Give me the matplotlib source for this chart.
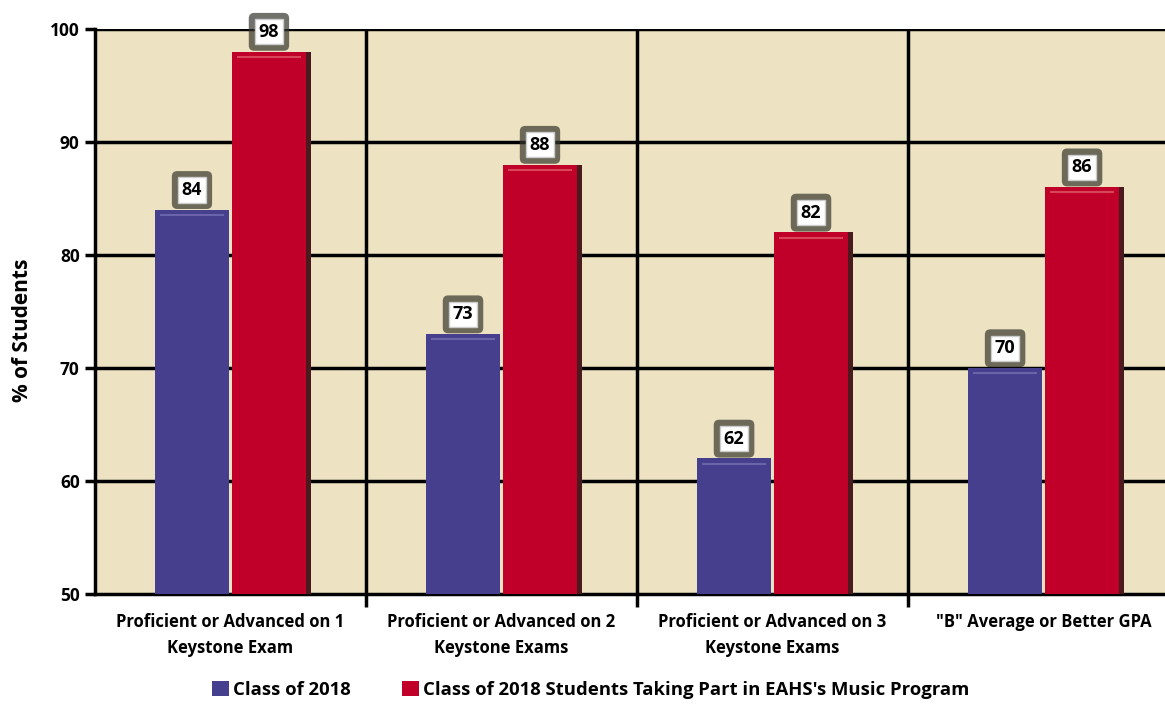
import numpy as np
import matplotlib
matplotlib.use("Agg")
import matplotlib.pyplot as plt
from matplotlib.patches import Patch

# Données
categories = ["Proficient or Advanced on 1\nKeystone Exam",
              "Proficient or Advanced on 2\nKeystone Exams",
              "Proficient or Advanced on 3\nKeystone Exams",
              "\"B\" Average or Better GPA"]
class_2018 = [84, 73, 62, 70]
music_2018 = [98, 88, 82, 86]
series_names = ["Class of 2018",
                "Class of 2018 Students Taking Part in EAHS's Music Program"]
y_ticks = [50, 60, 70, 80, 90, 100]

plt.rcParams['font.family'] = ['Open Sans', 'DejaVu Sans']
plt.rcParams['font.weight'] = 'bold'

BLUE = "#463F8E"
RED = "#C00028"
BG = "#EDE3C2"

fig = plt.figure(figsize=(11.65, 7.04), dpi=100)
ax = fig.add_axes([0.0815, 0.1562, 0.9185, 0.8026])
ax.set_facecolor(BG)

x = np.arange(len(categories))
w = 0.275
off = 0.142

ax.bar(x - off, class_2018, width=w, color=BLUE, zorder=3)
ax.bar(x + off, music_2018, width=w, color=RED, zorder=3)
# ombre à droite des barres rouges
ax.bar(x + off + w / 2 + 0.008, music_2018, width=0.016, color="#4a1a1e", zorder=2.9)
# reflet en haut des barres
for xi, v in zip(x, class_2018):
    ax.plot([xi - off - w / 2 + 0.02, xi - off + w / 2 - 0.02], [v - 0.45, v - 0.45],
            color="#6a64a8", lw=1.5, zorder=4, solid_capstyle="butt")
for xi, v in zip(x, music_2018):
    ax.plot([xi + off - w / 2 + 0.02, xi + off + w / 2 - 0.02], [v - 0.45, v - 0.45],
            color="#d8465a", lw=1.5, zorder=4, solid_capstyle="butt")

# étiquettes de valeurs
def label(xc, v):
    ax.text(xc, v + 1.75, f"{v}", ha="center", va="center", fontsize=13, color="none",
            bbox=dict(boxstyle="round,pad=0.55,rounding_size=0.3", facecolor="#35352d",
                      edgecolor="none", alpha=0.7),
            zorder=5)
    ax.text(xc, v + 1.75, f"{v}", ha="center", va="center", fontsize=13, color="black",
            fontweight="bold",
            bbox=dict(boxstyle="square,pad=0.2", facecolor="white", edgecolor="#cccccc", lw=1),
            zorder=6)

for xi, v in zip(x, class_2018):
    label(xi - off, v)
for xi, v in zip(x, music_2018):
    label(xi + off, v)

ax.set_ylim(50, 100)
ax.set_xlim(-0.5, 3.448)
ax.set_yticks(y_ticks)
ax.set_yticklabels([str(t) for t in y_ticks], fontsize=12.5, fontweight="bold")
ax.set_xticks(x)
ax.set_xticklabels(categories, fontsize=12, fontweight="bold", linespacing=1.55)
ax.tick_params(axis="x", which="major", length=0, pad=14)
ax.set_xticks([0.5, 1.5, 2.5], minor=True)
ax.tick_params(axis="x", which="minor", length=9, width=2.5, color="black")
ax.tick_params(axis="y", length=7, width=2.5, pad=4)

for yv in y_ticks[1:]:
    ax.axhline(yv, color="black", lw=2.5, zorder=1)
for xv in [0.5, 1.5, 2.5]:
    ax.axvline(xv, color="black", lw=2.5, zorder=1)

for s in ["top", "right"]:
    ax.spines[s].set_visible(False)
for s in ["left", "bottom"]:
    ax.spines[s].set_linewidth(2.5)

ax.set_ylabel("% of Students", fontsize=15, fontweight="bold")
ax.yaxis.set_label_coords(-0.058, 0.467)

handles = [Patch(facecolor=BLUE), Patch(facecolor=RED)]
fig.legend(handles, series_names, loc="center", bbox_to_anchor=(0.507, 0.02),
           ncol=2, frameon=False, handlelength=0.9, handleheight=0.9,
           handletextpad=0.2, columnspacing=2.8, prop={"weight": "bold", "size": 13.3})

fig.savefig("out.png", dpi=100)
